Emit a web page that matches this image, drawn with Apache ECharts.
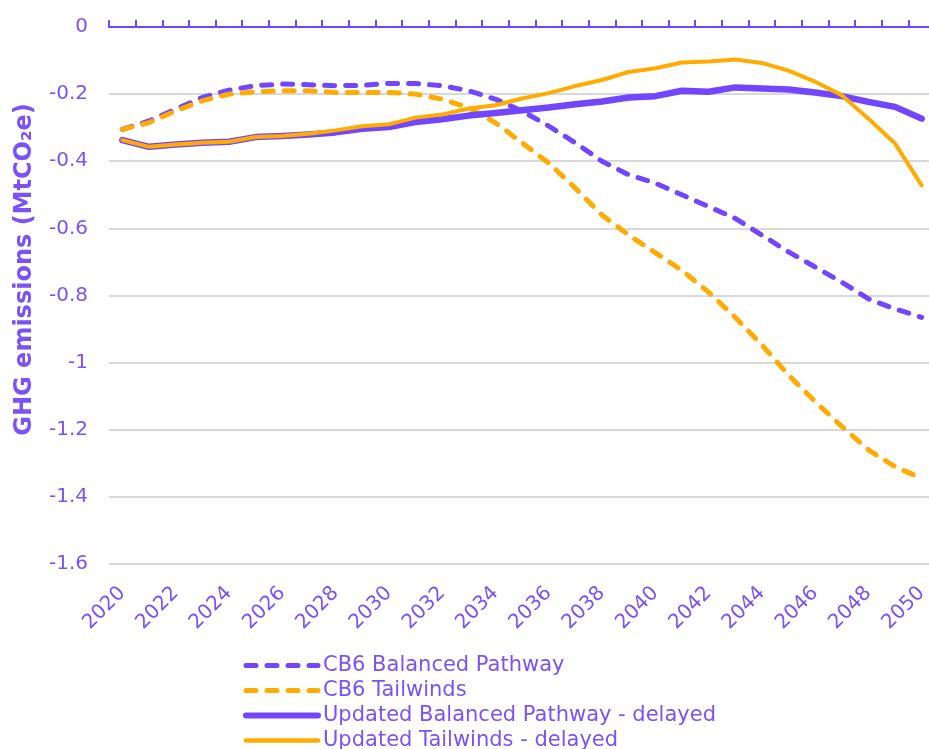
<!DOCTYPE html>
<html>
<head>
<meta charset="utf-8">
<script src="https://cdn.jsdelivr.net/npm/echarts@6/dist/echarts.min.js"></script>
<style>
	html, body { margin: 0; padding: 0; background: #fff; }
	#main { width: 929px; height: 749px; }
</style>
</head>
<body>
<div id="main"></div>
<script>
	const years = [];
	for (let y = 2020; y <= 2050; y++) years.push(String(y));

	const cb6Balanced = [-0.305, -0.28, -0.245, -0.21, -0.188, -0.175, -0.17, -0.172, -0.175, -0.174, -0.168,
		-0.168, -0.175, -0.19, -0.215, -0.25, -0.295, -0.345, -0.4, -0.44, -0.465,
		-0.5, -0.535, -0.57, -0.62, -0.67, -0.715, -0.76, -0.81, -0.84, -0.865];
	const cb6Tailwinds = [-0.305, -0.285, -0.25, -0.22, -0.2, -0.193, -0.19, -0.19, -0.195, -0.195, -0.195,
		-0.2, -0.215, -0.24, -0.285, -0.345, -0.405, -0.48, -0.56, -0.62, -0.672,
		-0.725, -0.79, -0.865, -0.947, -1.037, -1.116, -1.19, -1.26, -1.31, -1.345];
	const updBalanced = [-0.337, -0.357, -0.35, -0.345, -0.342, -0.328, -0.325, -0.32, -0.314, -0.303, -0.298,
		-0.283, -0.275, -0.264, -0.256, -0.248, -0.24, -0.23, -0.222, -0.21, -0.206,
		-0.19, -0.193, -0.18, -0.183, -0.186, -0.195, -0.206, -0.223, -0.238, -0.273];
	const updTailwinds = [-0.337, -0.357, -0.35, -0.345, -0.342, -0.328, -0.325, -0.318, -0.308, -0.296, -0.29,
		-0.27, -0.261, -0.243, -0.233, -0.213, -0.197, -0.176, -0.158, -0.134, -0.123,
		-0.106, -0.103, -0.097, -0.107, -0.13, -0.163, -0.203, -0.273, -0.347, -0.472];

	const purple = '#7246ff';
	const orange = '#ffab00';
	const textColor = '#7a52f7';
	const font = 'DejaVu Sans';

	const chart = echarts.init(document.getElementById('main'), null, { width: 929, height: 749 });

	function lineSeries(name, data, color, width, dashed) {
		return {
			name: name,
			type: 'line',
			data: data,
			symbol: 'none',
			showSymbol: false,
			lineStyle: {
				color: color,
				width: width,
				type: dashed ? [10, 11] : 'solid',
				cap: 'round',
				join: 'round'
			},
			itemStyle: { color: color },
			emphasis: { disabled: true }
		};
	}

	const noSymbol = { color: 'transparent', borderColor: 'transparent', borderWidth: 0, opacity: 0 };

	const option = {
		backgroundColor: '#fff',
		animation: false,
		textStyle: { fontFamily: font, color: textColor },
		grid: {
			left: 109,
			top: 27,
			width: 826,
			height: 537,
			outerBoundsMode: 'none',
			containLabel: false
		},
		legend: {
			orient: 'vertical',
			left: 238,
			top: 650,
			height: 200,
			itemWidth: 72,
			itemHeight: 14,
			itemGap: 4,
			itemStyle: noSymbol,
			textStyle: { color: textColor, fontSize: 21, fontFamily: font },
			data: [
				{ name: 'CB6 Balanced Pathway', lineStyle: { width: 5, type: [10, 11], cap: 'round' } },
				{ name: 'CB6 Tailwinds', lineStyle: { width: 5, type: [10, 11], cap: 'round' } },
				{ name: 'Updated Balanced Pathway - delayed', lineStyle: { width: 6, cap: 'round' } },
				{ name: 'Updated Tailwinds - delayed', lineStyle: { width: 4.5, cap: 'round' } }
			]
		},
		xAxis: [{
			type: 'category',
			position: 'bottom',
			data: years,
			axisLine: { show: false, onZero: false },
			axisTick: { show: false },
			axisLabel: {
				interval: 1,
				rotate: 45,
				margin: 26,
				fontSize: 20,
				color: textColor,
				fontFamily: font
			},
			splitLine: { show: false }
		}, {
			type: 'category',
			position: 'top',
			data: years,
			axisLine: { show: true, onZero: false, lineStyle: { color: purple, width: 2 } },
			axisTick: { show: true, interval: 0, length: 7, lineStyle: { color: purple, width: 2 } },
			axisLabel: { show: false },
			splitLine: { show: false }
		}],
		yAxis: {
			type: 'value',
			min: -1.6,
			max: 0,
			interval: 0.2,
			name: 'GHG emissions (MtCO\u2082e)',
			nameLocation: 'middle',
			nameRotate: 90,
			nameGap: 72,
			nameTextStyle: { color: textColor, fontSize: 24, fontWeight: 'bold', fontFamily: font, padding: [0, 0, 0, 52] },
			axisLine: { show: false },
			axisTick: { show: false },
			axisLabel: {
				margin: 21,
				fontSize: 20,
				color: textColor,
				fontFamily: font,
				formatter: function(v) { return String(Math.round(v * 10) / 10); }
			},
			splitLine: { lineStyle: { color: '#d9d9d9', width: 2 } }
		},
		series: [
			lineSeries('CB6 Balanced Pathway', cb6Balanced, purple, 5, true),
			lineSeries('CB6 Tailwinds', cb6Tailwinds, orange, 5, true),
			lineSeries('Updated Balanced Pathway - delayed', updBalanced, purple, 6.5, false),
			lineSeries('Updated Tailwinds - delayed', updTailwinds, orange, 4, false)
		]
	};

	chart.setOption(option);
</script>
</body>
</html>
